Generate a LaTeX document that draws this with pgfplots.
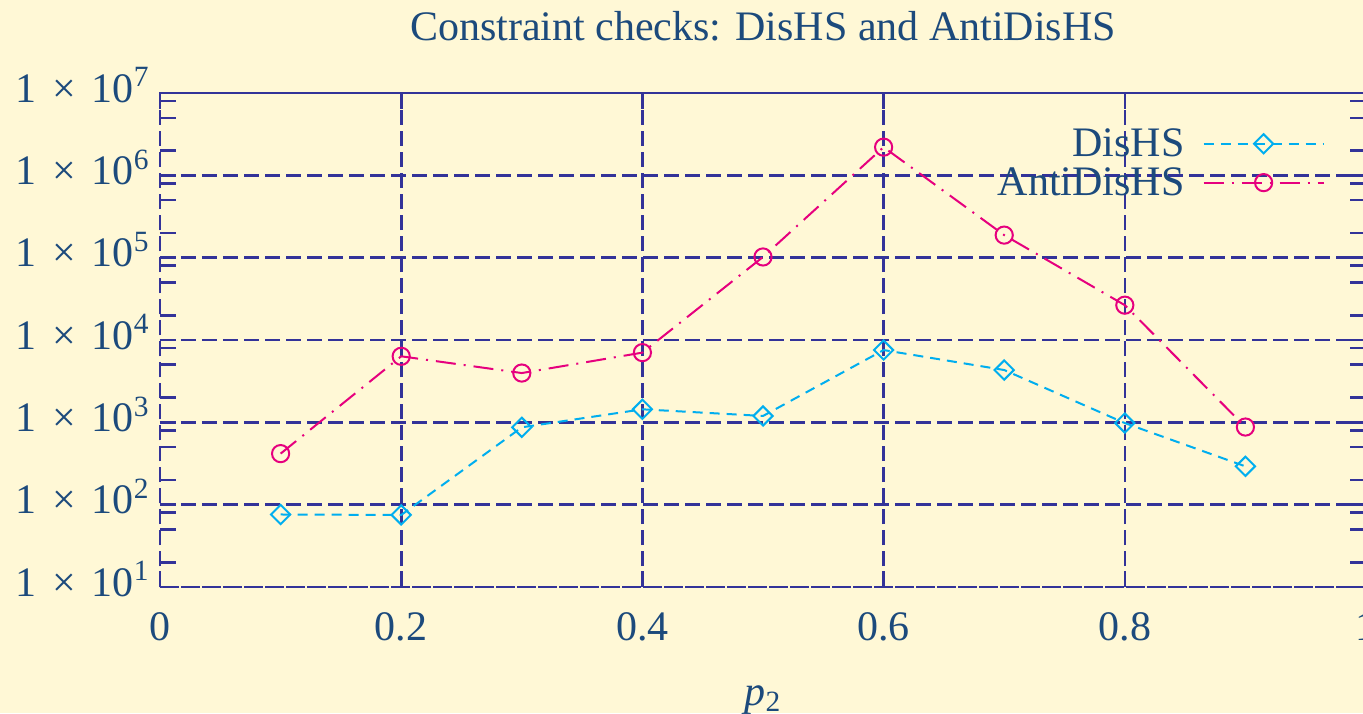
\documentclass[border=0pt]{standalone}
\usepackage{pgfplots}
\pgfplotsset{compat=1.18}
\usepackage{fontspec}
\setmainfont{Liberation Serif}
\definecolor{bg}{RGB}{255,248,214}
\definecolor{txt}{RGB}{28,74,124}
\definecolor{grd}{RGB}{51,51,153}
\definecolor{cy}{RGB}{0,174,239}
\definecolor{mg}{RGB}{230,0,126}
\newcommand{\tl}[1]{1\hspace{0.38em}×\hspace{0.38em}10\textsuperscript{#1}}
\pgfplotstableread{
x y
0.1 76
0.2 75
0.3 870
0.4 1440
0.5 1195
0.6 7550
0.7 4320
0.8 980
0.9 292
}\dishs
\pgfplotstableread{
x y
0.1 417
0.2 6340
0.3 3970
0.4 7030
0.5 102000
0.6 2200000
0.7 188000
0.8 26500
0.9 877
}\antidishs
\begin{document}
\begin{tikzpicture}[font=\fontsize{21}{25}\selectfont]
\path[use as bounding box, fill=bg] (-80pt,-63.15pt) rectangle (601.5pt,293.5pt);
\begin{axis}[
  at={(0,0)}, anchor=south west,
  scale only axis, width=603pt, height=247pt,
  xmin=0, xmax=1, ymin=10, ymax=1e7, ymode=log, log basis y=10,
  xtick={0,0.2,0.4,0.6,0.8,1},
  xticklabels={0,0.2,0.4,0.6,0.8,1},
  ytick={1e1,1e2,1e3,1e4,1e5,1e6,1e7},
  yticklabels={\tl{1},\tl{2},\tl{3},\tl{4},\tl{5},\tl{6},\tl{7}},
  minor ytick={20,50,80,200,500,800,2000,5000,8000,2e4,5e4,8e4,2e5,5e5,8e5,2e6,5e6,8e6},
  tick align=inside, major tick length=8pt, minor tick length=8pt,
  every tick/.style={grd, line width=1.3pt, solid},
  minor tick style={grd, line width=1.3pt, solid},
  grid=major,
  major grid style={grd, line width=1.3pt, dash pattern=on 7.5pt off 3pt},
  axis line style={grd, line width=1.3pt, dash pattern=on 7.5pt off 3pt},
  title={Constraint checks: DisHS and AntiDisHS},
  title style={at={(0.5,1)}, anchor=base, yshift=20.5pt, inner sep=0pt, text=txt},
  xlabel={\textit{p}\textsubscript{2}},
  xlabel style={at={(0.5,0)}, anchor=base, yshift=-59pt, inner sep=0pt, text=txt},
  xticklabel style={anchor=base, yshift=-26.65pt, inner sep=0pt, text=txt},
  yticklabel style={anchor=base east, xshift=-5pt, yshift=-4.5pt, inner sep=0pt, text=txt},
  legend plot pos=right, legend cell align=right,
  legend style={draw=none, fill=none, at={(rel axis cs:1,1)}, anchor=north east,
    xshift=-20.5pt, yshift=-17.5pt, inner sep=0pt, row sep=4pt, column sep=9pt,
    text=txt, nodes={inner sep=0pt}},
  legend image code/.code={\draw[mark repeat=2,mark phase=2] plot coordinates {(0pt,0pt) (30pt,0pt) (60pt,0pt)};},
]
\addplot[cy, line width=1pt, dash pattern=on 5pt off 3.5pt, mark=square, mark size=3.4pt, mark options={solid, rotate=45}] table[x=x,y=y] {\dishs};
\addlegendentry{DisHS}
\addplot[mg, line width=1pt, dash pattern=on 10pt off 4pt on 1pt off 4pt, mark=o, mark size=4.3pt, mark options={solid}] table[x=x,y=y] {\antidishs};
\addlegendentry{AntiDisHS}
\end{axis}
\end{tikzpicture}
\end{document}
